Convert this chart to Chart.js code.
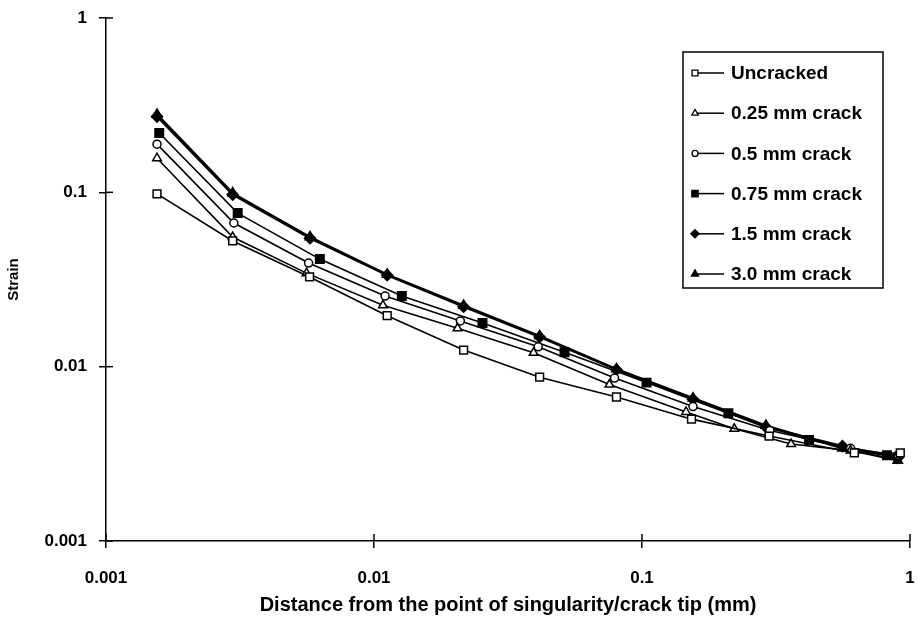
<!DOCTYPE html>
<html>
<head>
<meta charset="utf-8">
<script src="https://cdn.jsdelivr.net/npm/chart.js@4.4.1/dist/chart.umd.min.js"></script>
<style>
  html, body { margin: 0; padding: 0; background: #fff; }
  #wrap { width: 918px; height: 619px; }
</style>
</head>
<body>
<div id="wrap"><canvas id="strainChart" width="918" height="619"></canvas></div>
<script>
// distances (mm) and strains
const xUncracked = [0.00155, 0.00297, 0.00575, 0.0112, 0.0216, 0.0415, 0.0803, 0.153, 0.298, 0.62, 0.92];
const yUncracked = [0.098, 0.0526, 0.0327, 0.0196, 0.01245, 0.0087, 0.0067, 0.0050, 0.0040, 0.0032, 0.0032];

const x025 = [0.00155, 0.00297, 0.0056, 0.0108, 0.0205, 0.0394, 0.0756, 0.146, 0.221, 0.36, 0.6, 0.9];
const y025 = [0.157, 0.0554, 0.0344, 0.0225, 0.0166, 0.012, 0.0079, 0.0055, 0.0044, 0.0036, 0.0033, 0.0031];

const x05 = [0.00155, 0.0030, 0.0057, 0.0110, 0.0210, 0.041, 0.079, 0.155, 0.30, 0.60, 0.90];
const y05 = [0.189, 0.0667, 0.0393, 0.0254, 0.0183, 0.0130, 0.0086, 0.0059, 0.0043, 0.0034, 0.0031];

const x075 = [0.00158, 0.0031, 0.00628, 0.0127, 0.0254, 0.0514, 0.104, 0.21, 0.42, 0.82];
const y075 = [0.219, 0.076, 0.0414, 0.0254, 0.0178, 0.0121, 0.0081, 0.0054, 0.0038, 0.0031];

const x15 = [0.00155, 0.00297, 0.00577, 0.0112, 0.0216, 0.0415, 0.0803, 0.155, 0.29, 0.56, 0.90];
const y15 = [0.272, 0.097, 0.0545, 0.0335, 0.0221, 0.0148, 0.0096, 0.0065, 0.0045, 0.0035, 0.0030];

const x30 = [0.00155, 0.00297, 0.00577, 0.0112, 0.0216, 0.0415, 0.0803, 0.155, 0.29, 0.56, 0.90];
const y30 = [0.280, 0.099, 0.0555, 0.0338, 0.0224, 0.0150, 0.0097, 0.0066, 0.0046, 0.0034, 0.0029];

const seriesLabels = ['Uncracked', '0.25 mm crack', '0.5 mm crack', '0.75 mm crack', '1.5 mm crack', '3.0 mm crack'];
const xTicks = [0.001, 0.01, 0.1, 1];
const yTicks = [0.001, 0.01, 0.1, 1];

const FONT = '"Liberation Sans", Arial, sans-serif';

function pts(xs, ys) {
    return xs.map(function (x, i) { return { x: x, y: ys[i] }; });
}

const markers = [
    { style: 'rect', fill: '#fff', r: 5.5 },
    { style: 'triangle', fill: '#fff', r: 5 },
    { style: 'circle', fill: '#fff', r: 4 },
    { style: 'rect', fill: '#000', r: 6 },
    { style: 'rectRot', fill: '#000', r: 5.5 },
    { style: 'triangle', fill: '#000', r: 5.5 }
];
const allData = [pts(xUncracked, yUncracked), pts(x025, y025), pts(x05, y05),
                 pts(x075, y075), pts(x15, y15), pts(x30, y30)];

const datasets = allData.map(function (d, i) {
    return {
        label: seriesLabels[i],
        data: d,
        borderColor: '#000',
        borderWidth: i >= 4 ? 2.2 : 1.6,
        backgroundColor: markers[i].fill,
        pointStyle: markers[i].style,
        pointRadius: markers[i].r,
        pointBackgroundColor: markers[i].fill,
        pointBorderColor: '#000',
        pointBorderWidth: 1.5,
        tension: 0,
        clip: false
    };
});

// inner half of the crossing tick marks + boxed legend
const extras = {
    id: 'extras',
    afterDraw: function (chart) {
        const ctx = chart.ctx;
        const a = chart.chartArea;
        const xs = chart.scales.x, ys = chart.scales.y;
        ctx.save();
        ctx.strokeStyle = '#000';
        ctx.lineWidth = 1.5;
        xTicks.forEach(function (v) {
            const px = xs.getPixelForValue(v);
            ctx.beginPath(); ctx.moveTo(px, a.bottom); ctx.lineTo(px, a.bottom - 7); ctx.stroke();
        });
        yTicks.forEach(function (v) {
            const py = ys.getPixelForValue(v);
            ctx.beginPath(); ctx.moveTo(a.left, py); ctx.lineTo(a.left + 7, py); ctx.stroke();
        });

        // legend
        const bx = 683, by = 52, bw = 200, bh = 236;
        ctx.fillStyle = '#fff';
        ctx.fillRect(bx, by, bw, bh);
        ctx.lineWidth = 1.5;
        ctx.strokeRect(bx, by, bw, bh);
        ctx.font = 'bold 19px ' + FONT;
        ctx.textBaseline = 'middle';
        seriesLabels.forEach(function (lab, i) {
            const yy = 73 + i * 40.2;
            ctx.strokeStyle = '#000';
            ctx.lineWidth = 1.5;
            ctx.beginPath(); ctx.moveTo(694, yy); ctx.lineTo(724, yy); ctx.stroke();
            ctx.fillStyle = markers[i].fill;
            ctx.lineWidth = 1.3;
            Chart.helpers.drawPoint(ctx, {
                pointStyle: markers[i].style, radius: markers[i].r * 0.75, borderWidth: 1.3
            }, 695, yy);
            ctx.fillStyle = '#000';
            ctx.fillText(lab, 731, yy + 1);
        });
        ctx.restore();
    }
};

function noPad(s) {
    s.paddingLeft = 0; s.paddingRight = 0; s.paddingTop = 0; s.paddingBottom = 0;
}

new Chart(document.getElementById('strainChart').getContext('2d'), {
    type: 'line',
    data: { datasets: datasets },
    options: {
        responsive: false,
        animation: false,
        layout: { padding: { top: 18, right: 8, bottom: 0, left: 0 } },
        plugins: {
            legend: { display: false },
            tooltip: { enabled: false }
        },
        scales: {
            x: {
                type: 'logarithmic',
                min: 0.001,
                max: 1,
                afterBuildTicks: function (s) { s.ticks = xTicks.map(function (v) { return { value: v }; }); },
                afterFit: function (s) { s.height = 78; noPad(s); },
                ticks: {
                    color: '#000',
                    font: { family: FONT, size: 17, weight: 'bold' },
                    padding: 20,
                    maxRotation: 0,
                    autoSkip: false,
                    callback: function (v) { return String(v); }
                },
                grid: { drawOnChartArea: false, drawTicks: true, tickLength: 7, color: '#000', lineWidth: 1.5 },
                border: { display: true, color: '#000', width: 1.5 },
                title: {
                    display: true,
                    text: 'Distance from the point of singularity/crack tip (mm)',
                    color: '#000',
                    font: { family: FONT, size: 20, weight: 'bold' },
                    padding: { top: 0, bottom: 2 }
                }
            },
            y: {
                type: 'logarithmic',
                min: 0.001,
                max: 1,
                afterBuildTicks: function (s) { s.ticks = yTicks.map(function (v) { return { value: v }; }); },
                afterFit: function (s) { s.width = 106; noPad(s); },
                ticks: {
                    color: '#000',
                    font: { family: FONT, size: 17, weight: 'bold' },
                    padding: 12,
                    autoSkip: false,
                    callback: function (v) { return String(v); }
                },
                grid: { drawOnChartArea: false, drawTicks: true, tickLength: 7, color: '#000', lineWidth: 1.5 },
                border: { display: true, color: '#000', width: 1.5 },
                title: {
                    display: true,
                    text: 'Strain',
                    color: '#000',
                    font: { family: FONT, size: 15, weight: 'bold' },
                    padding: { top: 5, bottom: 0 }
                }
            }
        }
    },
    plugins: [extras]
});
</script>
</body>
</html>
